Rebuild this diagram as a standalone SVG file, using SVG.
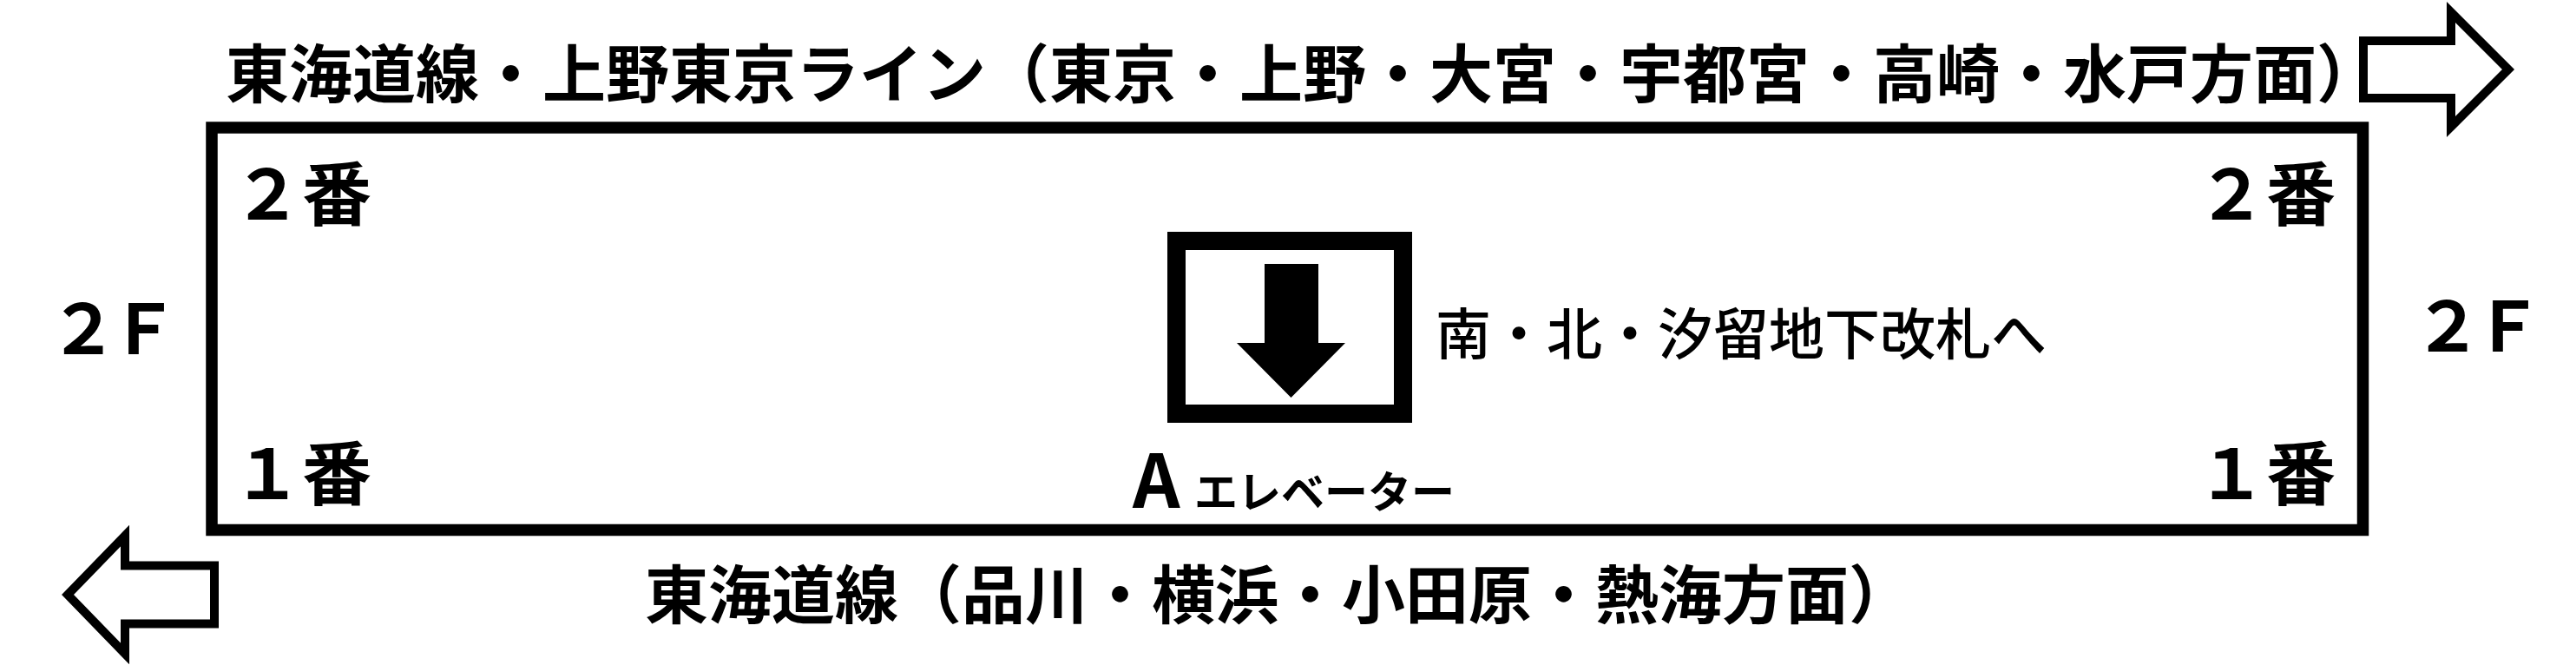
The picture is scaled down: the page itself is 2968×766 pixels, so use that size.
<svg xmlns="http://www.w3.org/2000/svg" width="2968" height="766" viewBox="0 0 2968 766">
  <style>
    text { font-family: "Noto Sans CJK JP", "Noto Sans CJK SC", sans-serif; fill: #000; }
    .title { font-size: 73px; font-weight: 700; }
    .track { font-size: 80px; font-weight: 700; }
    .floor { font-size: 80px; font-weight: 700; }
    .exit { font-size: 64px; font-weight: 500; }
    .elevA { font-size: 85px; font-weight: 700; }
    .elevT { font-size: 50px; font-weight: 700; }
    .dir { fill: #fff; stroke: #000; stroke-width: 10; stroke-linejoin: miter; stroke-miterlimit: 10; }
  </style>
  <rect x="0" y="0" width="2968" height="766" fill="#fff"/>

  <g id="platform">
    <rect x="244" y="147" width="2478.5" height="463.5" fill="none" stroke="#000" stroke-width="13.5"/>
  </g>

  <g id="label-top-line">
    <text class="title" x="260" y="112">東海道線・上野東京ライン（東京・上野・大宮・宇都宮・高崎・水戸方面）</text>
  </g>
  <g id="label-bottom-line">
    <text class="title" x="743" y="712">東海道線（品川・横浜・小田原・熱海方面）</text>
  </g>

  <g id="track-2-left"><text class="track" x="268" y="253">２番</text></g>
  <g id="track-2-right"><text class="track" x="2531" y="253">２番</text></g>
  <g id="track-1-left"><text class="track" x="268" y="575">１番</text></g>
  <g id="track-1-right"><text class="track" x="2531" y="575">１番</text></g>

  <g id="floor-left"><text class="floor" x="56 126" y="408">２Ｆ</text></g>
  <g id="floor-right"><text class="floor" x="2780 2850" y="405">２Ｆ</text></g>

  <g id="elevator">
    <rect x="1355.5" y="277.5" width="261" height="199" fill="#fff" stroke="#000" stroke-width="21"/>
    <polygon points="1457,304 1519,304 1519,395 1550,395 1487.5,458 1425,395 1457,395" fill="#000"/>
    <text class="elevA" x="1305" y="585">A</text>
    <text class="elevT" x="1376" y="585">エレベーター</text>
  </g>

  <g id="exit-label">
    <text class="exit" x="1654" y="408">南・北・汐留地下改札へ</text>
  </g>

  <g id="connectors">
    <polygon class="dir" points="2723,47 2824,47 2824,14 2890,80 2824,146 2824,113 2723,113"/>
    <polygon class="dir" points="247,651.5 144,651.5 144,617 78,685 144,753 144,718.5 247,718.5"/>
  </g>
</svg>
